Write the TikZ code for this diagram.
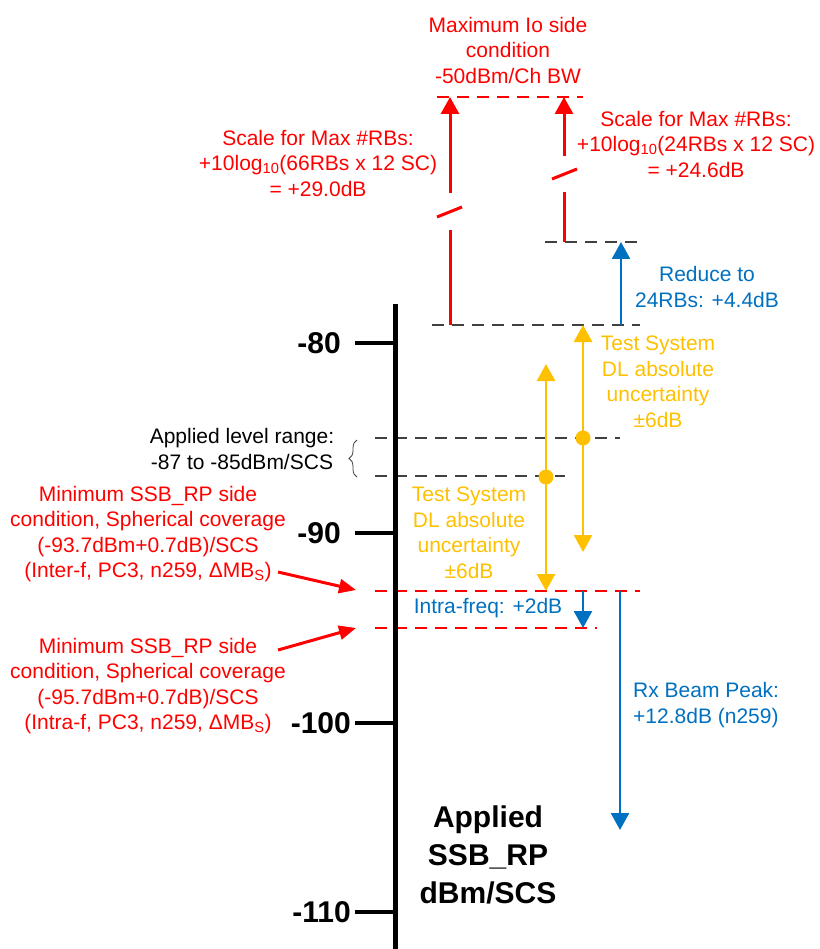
\documentclass[tikz,border=0pt]{standalone}
\usepackage{fontspec}
\setmainfont{Liberation Sans}
\usetikzlibrary{arrows.meta,decorations.pathreplacing}
\definecolor{myred}{RGB}{255,0,0}
\definecolor{myblue}{RGB}{0,112,192}
\definecolor{myyellow}{RGB}{255,192,0}
\definecolor{mygray}{RGB}{64,64,64}
\begin{document}
\begin{tikzpicture}[x=1pt,y=-1pt,
  txt/.style={font=\fontsize{21}{25.5}\selectfont, align=center, inner sep=0pt},
  bigtxt/.style={font=\fontsize{30}{38}\selectfont\bfseries, align=center, inner sep=0pt},
  blackdash/.style={draw=mygray, line width=2pt, dash pattern=on 12pt off 8pt},
  reddash/.style={draw=myred, line width=2pt, dash pattern=on 12pt off 8pt},
  redline/.style={draw=myred, line width=3pt},
  blueline/.style={draw=myblue, line width=2.5pt},
  yelline/.style={draw=myyellow, line width=2.5pt},
  bigtip/.style={-{Triangle[width=18pt,length=17pt]}},
  dbltip/.style={{Triangle[width=18pt,length=17pt]}-{Triangle[width=18pt,length=17pt]}},
  pointer/.style={draw=myred, line width=3pt, -{Triangle[width=14pt,length=17pt]}},
  tickline/.style={line width=4.5pt}
]
\useasboundingbox (0,0) rectangle (819,949);

% level lines
\draw[reddash] (437,97) -- (583,97);
\draw[blackdash] (545,242) -- (640,242);
\draw[blackdash] (432,325) -- (640,325);
\draw[blackdash] (375,438) -- (620,438);
\draw[blackdash] (375,476) -- (565,476);
\draw[reddash] (375,591) -- (640,591);
\draw[reddash] (375,628) -- (597,628);

% axis
\coordinate (axtop) at (395,304);
\coordinate (axbot) at (395,949);
\draw[line width=5pt] (axtop) -- (axbot);
\foreach \yy/\lab/\xe in {343/-80/341, 533/-90/341, 723/-100/351, 912/-110/351}{
  \draw[tickline] (355,\yy) -- (395,\yy);
  \node[bigtxt, anchor=east] at (\xe,\yy) {\lab};
}

% red broken arrows
\coordinate (rl0) at (450,325); \coordinate (rl1) at (450,230);
\coordinate (rl2) at (450,193); \coordinate (rl3) at (450,97);
\draw[redline] (rl0) -- (rl1);
\draw[redline] (437,217) -- (462,207);
\draw[redline, bigtip] (rl2) -- (rl3);
\coordinate (rr0) at (564,242); \coordinate (rr1) at (564,192);
\coordinate (rr2) at (564,156); \coordinate (rr3) at (564,97);
\draw[redline] (rr0) -- (rr1);
\draw[redline] (552,179) -- (577,169);
\draw[redline, bigtip] (rr2) -- (rr3);

% blue arrows
\coordinate (b0) at (621,325); \coordinate (b1) at (621,242);
\draw[blueline, bigtip] (b0) -- (b1);
\coordinate (bi0) at (583,591); \coordinate (bi1) at (583,628);
\draw[blueline, bigtip] (bi0) -- (bi1);
\coordinate (bp0) at (620,591); \coordinate (bp1) at (620,830);
\draw[blueline, bigtip] (bp0) -- (bp1);

% yellow arrows
\coordinate (yl0) at (546,591); \coordinate (yl1) at (546,364);
\draw[yelline, dbltip] (yl0) -- (yl1);
\fill[myyellow] (546,477) circle (7.5pt);
\coordinate (yr0) at (583,552); \coordinate (yr1) at (583,325);
\draw[yelline, dbltip] (yr0) -- (yr1);
\fill[myyellow] (583,438) circle (7.5pt);

% brace
\draw[mygray, line width=0.8pt, decorate, decoration={brace, amplitude=8pt}] (357,477) -- (357,440);

% texts
\node[txt, text=myred] (maxio) at (508,50) {Maximum Io side\\condition\\-50dBm/Ch BW};
\node[txt, text=myred] (scaleL) at (318,163) {Scale for Max \#RBs:\\+10log\textsubscript{10}(66RBs x 12 SC)\\= +29.0dB};
\node[txt, text=myred] (scaleR) at (696,144) {Scale for Max \#RBs:\\+10log\textsubscript{10}(24RBs x 12 SC)\\= +24.6dB};
\node[txt, text=myblue] (reduce) at (707,287) {Reduce to\\24RBs: +4.4dB};
\node[txt, text=myyellow] (tsR) at (658,382) {Test System\\DL absolute\\uncertainty\\±6dB};
\node[txt, text=myyellow] (tsL) at (469,533) {Test System\\DL absolute\\uncertainty\\±6dB};
\node[txt] (range) at (242,449) {Applied level range:\\-87 to -85dBm/SCS};
\node[txt, text=myred] (minU) at (148,534) {Minimum SSB\_RP side\\condition, Spherical coverage\\(-93.7dBm+0.7dB)/SCS\\(Inter-f, PC3, n259, ΔMB\textsubscript{S})};
\node[txt, text=myred] (minL) at (148,686) {Minimum SSB\_RP side\\condition, Spherical coverage\\(-95.7dBm+0.7dB)/SCS\\(Intra-f, PC3, n259, ΔMB\textsubscript{S})};
\node[txt, text=myblue] (intra) at (488,608) {Intra-freq: +2dB};
\node[txt, text=myblue, align=left, anchor=west] (rx) at (633,705) {Rx Beam Peak:\\+12.8dB (n259)};
\node[bigtxt] (axlabel) at (488,855) {Applied\\SSB\_RP\\dBm/SCS};

% pointers
\coordinate (pu0) at (278,572); \coordinate (pu1) at (356,590);
\draw[pointer] (pu0) -- (pu1);
\coordinate (pl0) at (278,650); \coordinate (pl1) at (356,628);
\draw[pointer] (pl0) -- (pl1);
\end{tikzpicture}
\end{document}
